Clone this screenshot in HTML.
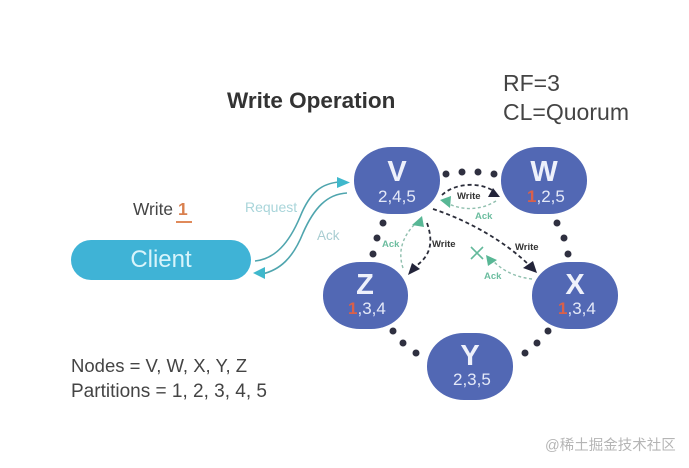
<!DOCTYPE html>
<html>
<head>
<meta charset="utf-8">
<style>
html,body{margin:0;padding:0;background:#fff;}
svg{display:block;}
text{font-family:"Liberation Sans","Noto Sans CJK SC",sans-serif;}
</style>
</head>
<body>
<svg width="689" height="468" viewBox="0 0 689 468" xmlns="http://www.w3.org/2000/svg">
<rect width="689" height="468" fill="#fff"/>

<text x="227" y="108" font-size="22.5" font-weight="700" fill="#333">Write Operation</text>
<text x="503" y="91" font-size="23" fill="#444">RF=3</text>
<text x="503" y="120" font-size="23" fill="#444" textLength="126" lengthAdjust="spacingAndGlyphs">CL=Quorum</text>

<text x="133" y="215" font-size="17.3" fill="#444">Write</text>
<text x="178" y="215" font-size="17.5" font-weight="700" fill="#d9804f">1</text>
<rect x="176" y="221" width="16" height="2" fill="#e08a5a"/>

<rect x="71" y="240" width="180" height="40" rx="20" fill="#3fb3d6"/>
<text x="161" y="267" font-size="24" fill="#d8f4fb" text-anchor="middle">Client</text>

<path d="M255 261C275 259 289 243 300 217C310 192 322 183 340 182" fill="none" stroke="#4fa5ae" stroke-width="1.6"/>
<path d="M337 177L350 182.500L337 188Z" fill="#3fb8cc"/>
<path d="M347 193C327 194 314 208 303 233C293 258 280 270 262 274" fill="none" stroke="#4fa5ae" stroke-width="1.6"/>
<path d="M253 273L265 267L265 279Z" fill="#3fb8cc"/>
<text x="245" y="212" font-size="14" fill="#a9d5da">Request</text>
<text x="317" y="240" font-size="13.500" fill="#a9cdd2">Ack</text>

<g fill="#5268b4">
<rect x="354" y="147" width="86" height="67" rx="37" ry="33"/>
<rect x="501" y="147" width="86" height="67" rx="37" ry="33"/>
<rect x="323" y="262" width="85" height="67" rx="37" ry="33"/>
<rect x="532" y="262" width="86" height="67" rx="37" ry="33"/>
<rect x="427" y="333" width="86" height="67" rx="37" ry="33"/>
</g>

<g fill="#eef1fb" text-anchor="middle" font-weight="700" font-size="29">
<text x="397" y="181">V</text>
<text x="544" y="181">W</text>
<text x="365" y="294">Z</text>
<text x="575" y="294">X</text>
<text x="470" y="365">Y</text>
</g>
<g fill="#e4e9f8" font-size="17">
<text x="378" y="202">2,4,5</text>
<text x="527" y="202"><tspan fill="#d9604a" font-weight="700">1</tspan>,2,5</text>
<text x="348" y="314"><tspan fill="#d9604a" font-weight="700">1</tspan>,3,4</text>
<text x="558" y="314"><tspan fill="#d9604a" font-weight="700">1</tspan>,3,4</text>
<text x="453" y="385">2,3,5</text>
</g>

<g fill="#2f3040">
<circle cx="446" cy="174" r="3.500"/><circle cx="462" cy="172" r="3.500"/><circle cx="478" cy="172" r="3.500"/><circle cx="494" cy="174" r="3.500"/>
<circle cx="557" cy="223" r="3.500"/><circle cx="564" cy="238" r="3.500"/><circle cx="568" cy="254" r="3.500"/>
<circle cx="383" cy="223" r="3.500"/><circle cx="377" cy="238" r="3.500"/><circle cx="373" cy="254" r="3.500"/>
<circle cx="393" cy="331" r="3.500"/><circle cx="403" cy="343" r="3.500"/><circle cx="416" cy="353" r="3.500"/>
<circle cx="548" cy="331" r="3.500"/><circle cx="537" cy="343" r="3.500"/><circle cx="525" cy="353" r="3.500"/>
</g>

<g fill="none" stroke="#2b2d3a" stroke-width="1.8" stroke-dasharray="4 3">
<path d="M442 195C455 183 478 182 492 190"/>
<path d="M433 209C470 221 507 243 530 266"/>
<path d="M427 223C434 243 430 256 416 266"/>
</g>
<g fill="#23243a">
<path d="M488 197L493 188L500 197Z"/>
<path d="M523 268L537 273L533 261Z"/>
<path d="M408 275L412 263L420 269Z"/>
</g>

<g fill="none" stroke="#8fbfae" stroke-width="1.400" stroke-dasharray="3 2.500">
<path d="M496 201C480 211 462 210 449 204"/>
<path d="M532 279C515 277 503 271 492 260"/>
<path d="M403 268C397 250 404 235 415 224"/>
</g>
<g fill="#58b795">
<path d="M440 200L451 196L450 208Z"/>
<path d="M486 255L497 260L488 266Z"/>
<path d="M422 216L424 227L412 225Z"/>
</g>
<path d="M471 247L483 259M483 247L471 259" stroke="#63b99b" stroke-width="1.600" fill="none"/>

<g font-size="9.500" font-weight="700" fill="#333">
<text x="457" y="199">Write</text>
<text x="432" y="247">Write</text>
<text x="515" y="250">Write</text>
</g>
<g font-size="9.500" font-weight="700" fill="#6cbd9f">
<text x="475" y="219">Ack</text>
<text x="382" y="247">Ack</text>
<text x="484" y="279">Ack</text>
</g>

<text x="71" y="372" font-size="18.500" fill="#444">Nodes = V, W, X, Y, Z</text>
<text x="71" y="397" font-size="19" fill="#444" textLength="196" lengthAdjust="spacingAndGlyphs">Partitions = 1, 2, 3, 4, 5</text>

<text x="545" y="450" font-size="14.500" fill="#b5b5b5">@稀土掘金技术社区</text>
</svg>
</body>
</html>
